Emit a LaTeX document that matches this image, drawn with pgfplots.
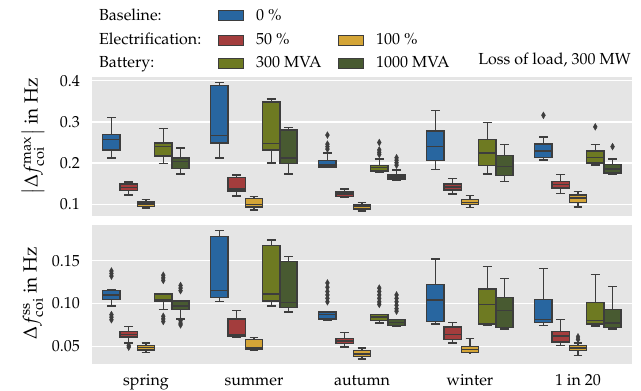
\documentclass[border=0pt]{standalone}
\usepackage[T1]{fontenc}
\usepackage{mathpazo}
\usepackage{pgfplots}
\pgfplotsset{compat=1.18}
\usepgfplotslibrary{statistics}
\definecolor{cA}{HTML}{2866A0}
\definecolor{cB}{HTML}{A33D3D}
\definecolor{cC}{HTML}{D4A537}
\definecolor{cD}{HTML}{6E7A22}
\definecolor{cE}{HTML}{485A31}
\definecolor{edge}{HTML}{3D3D3D}
\definecolor{bgc}{HTML}{E5E5E5}
\newcommand{\fs}{\fontsize{16}{19}\selectfont}
\newcommand{\fl}{\fontsize{19}{23}\selectfont}
\pgfplotsset{
  boxstyle/.style={draw=edge, line width=1.4pt, mark=diamond*, mark size=2.6pt,
    mark options={fill=edge, draw=edge, line width=0.4pt, yscale=1.3}},
  myaxis/.style={width=540pt, height=139pt, scale only axis,
    xmin=-0.5, xmax=4.5, xtick={0,1,2,3,4},
    axis background/.style={fill=bgc}, axis line style={draw=none},
    ymajorgrids, grid style={white, line width=1.3pt},
    major tick length=0pt, scaled y ticks=false,
    tick label style={font=\fs}, label style={font=\fl},
    yticklabel style={xshift=-6.7pt},
    clip=false}
}
\newcommand{\bx}[7]{\addplot[boxstyle, fill=#2, boxplot prepared={draw direction=y, box extend=0.16, whisker extend=0.08, draw position=#1, lower whisker=#3, lower quartile=#4, median=#5, upper quartile=#6, upper whisker=#7}] coordinates {};}
\newcommand{\bxo}[8]{\addplot[boxstyle, fill=#2, boxplot prepared={draw direction=y, box extend=0.16, whisker extend=0.08, draw position=#1, lower whisker=#3, lower quartile=#4, median=#5, upper quartile=#6, upper whisker=#7}] table[row sep=\\,y index=0] {data\\#8};}
\begin{document}
\fs
\begin{tikzpicture}
\path[use as bounding box] (-92pt,-27pt) rectangle (549pt,364pt);
% ---------------- top axis
\begin{axis}[myaxis, at={(0pt,148pt)}, anchor=south west,
  ymin=0.0716, ymax=0.409, ytick={0.1,0.2,0.3,0.4},
  yticklabel style={/pgf/number format/fixed, /pgf/number format/precision=1},
  xticklabels={},
  ylabel={$\left|\Delta f^{\mathrm{max}}_{\mathrm{coi}}\right|$ in Hz},
  ylabel style={at={(axis description cs:-0.1093,0.572)}, anchor=center}]
% spring
\bx{-0.32}{cA}{0.212}{0.232}{0.258}{0.270}{0.310}
\bx{-0.16}{cB}{0.123}{0.133}{0.141}{0.149}{0.154}
\bx{0}{cC}{0.091}{0.094}{0.101}{0.106}{0.111}
\bx{0.16}{cD}{0.199}{0.217}{0.241}{0.249}{0.284}
\bx{0.32}{cE}{0.174}{0.187}{0.204}{0.212}{0.237}
% summer
\bx{0.68}{cA}{0.212}{0.249}{0.267}{0.388}{0.396}
\bx{0.84}{cB}{0.120}{0.132}{0.137}{0.165}{0.171}
\bx{1}{cC}{0.086}{0.093}{0.099}{0.114}{0.119}
\bx{1.16}{cD}{0.200}{0.232}{0.248}{0.348}{0.356}
\bx{1.32}{cE}{0.174}{0.199}{0.212}{0.280}{0.286}
% autumn
\bxo{1.68}{cA}{0.190}{0.191}{0.195}{0.206}{0.225}{0.268\\0.246\\0.240\\0.234\\}
\bx{1.84}{cB}{0.116}{0.119}{0.125}{0.130}{0.137}
\bx{2}{cC}{0.084}{0.089}{0.094}{0.098}{0.105}
\bxo{2.16}{cD}{0.178}{0.181}{0.189}{0.194}{0.210}{0.250\\0.232\\0.226\\0.221\\}
\bxo{2.32}{cE}{0.159}{0.161}{0.166}{0.171}{0.183}{0.213\\0.207\\0.201\\0.195\\}
% winter
\bx{2.68}{cA}{0.185}{0.207}{0.241}{0.278}{0.327}
\bx{2.84}{cB}{0.125}{0.135}{0.142}{0.149}{0.163}
\bx{3}{cC}{0.092}{0.099}{0.105}{0.111}{0.122}
\bx{3.16}{cD}{0.174}{0.194}{0.225}{0.257}{0.298}
\bx{3.32}{cE}{0.156}{0.170}{0.192}{0.218}{0.245}
% 1 in 20
\bxo{3.68}{cA}{0.208}{0.213}{0.229}{0.246}{0.263}{0.316\\}
\bx{3.84}{cB}{0.126}{0.140}{0.148}{0.156}{0.173}
\bx{4}{cC}{0.093}{0.104}{0.115}{0.123}{0.131}
\bxo{4.16}{cD}{0.195}{0.200}{0.214}{0.229}{0.245}{0.288\\}
\bxo{4.32}{cE}{0.173}{0.176}{0.186}{0.197}{0.210}{0.240\\}
\end{axis}
% ---------------- bottom axis
\begin{axis}[myaxis, at={(0pt,0pt)}, anchor=south west,
  ymin=0.0293, ymax=0.1917, ytick={0.05,0.10,0.15},
  yticklabel style={/pgf/number format/fixed, /pgf/number format/fixed zerofill, /pgf/number format/precision=2},
  xticklabels={spring,summer,autumn,winter,1 in 20},
  xticklabel style={anchor=base, yshift=-21.5pt},
  ylabel={$\Delta f^{\mathrm{ss}}_{\mathrm{coi}}$ in Hz},
  ylabel style={at={(axis description cs:-0.1093,0.51)}, anchor=center}]
% spring
\bxo{-0.32}{cA}{0.097}{0.105}{0.110}{0.115}{0.116}{0.138\\0.135\\0.132\\0.087\\0.084\\0.081\\}
\bxo{-0.16}{cB}{0.054}{0.061}{0.064}{0.067}{0.073}{0.051\\0.049\\}
\bx{0}{cC}{0.043}{0.0457}{0.0484}{0.0507}{0.054}
\bxo{0.16}{cD}{0.093}{0.102}{0.104}{0.111}{0.111}{0.133\\0.130\\0.127\\0.085\\0.082\\0.079\\}
\bxo{0.32}{cE}{0.082}{0.093}{0.097}{0.103}{0.103}{0.121\\0.118\\0.115\\0.080\\0.077\\0.075\\}
% summer
\bx{0.68}{cA}{0.102}{0.107}{0.115}{0.178}{0.185}
\bx{0.84}{cB}{0.060}{0.062}{0.064}{0.082}{0.092}
\bx{1}{cC}{0.045}{0.046}{0.048}{0.058}{0.060}
\bx{1.16}{cD}{0.097}{0.103}{0.111}{0.1675}{0.174}
\bx{1.32}{cE}{0.090}{0.0955}{0.101}{0.149}{0.155}
% autumn
\bxo{1.68}{cA}{0.080}{0.082}{0.087}{0.090}{0.090}{0.124\\0.119\\0.114\\0.110\\0.106\\0.102\\}
\bx{1.84}{cB}{0.049}{0.053}{0.056}{0.059}{0.066}
\bx{2}{cC}{0.035}{0.038}{0.041}{0.045}{0.048}
\bxo{2.16}{cD}{0.077}{0.080}{0.084}{0.087}{0.087}{0.118\\0.114\\0.110\\0.106\\0.102\\0.099\\}
\bxo{2.32}{cE}{0.073}{0.0745}{0.078}{0.0815}{0.0815}{0.110\\0.106\\0.102\\0.098\\0.094\\0.091\\}
% winter
\bx{2.68}{cA}{0.076}{0.079}{0.104}{0.122}{0.152}
\bx{2.84}{cB}{0.054}{0.058}{0.064}{0.0725}{0.078}
\bx{3}{cC}{0.0425}{0.0426}{0.0465}{0.050}{0.059}
\bx{3.16}{cD}{0.0745}{0.076}{0.099}{0.117}{0.143}
\bx{3.32}{cE}{0.070}{0.072}{0.092}{0.107}{0.129}
% 1 in 20
\bx{3.68}{cA}{0.0745}{0.078}{0.0815}{0.105}{0.141}
\bx{3.84}{cB}{0.051}{0.055}{0.062}{0.067}{0.0815}
\bxo{4}{cC}{0.039}{0.045}{0.048}{0.0507}{0.054}{0.061\\0.058\\}
\bx{4.16}{cD}{0.0737}{0.076}{0.080}{0.101}{0.134}
\bx{4.32}{cE}{0.070}{0.072}{0.077}{0.093}{0.120}
\end{axis}
% ---------------- legend
\node[anchor=base west, inner sep=0pt] at (7pt,343.5pt) {Baseline:};
\node[anchor=base west, inner sep=0pt] at (7pt,319pt) {Electrification:};
\node[anchor=base west, inner sep=0pt] at (7pt,296pt) {Battery:};
\filldraw[fill=cA, draw=edge, line width=0.8pt] (126pt,343.5pt) rectangle (151pt,353.5pt);
\filldraw[fill=cB, draw=edge, line width=0.8pt] (126pt,319pt) rectangle (151pt,329pt);
\filldraw[fill=cC, draw=edge, line width=0.8pt] (246pt,319pt) rectangle (271pt,329pt);
\filldraw[fill=cD, draw=edge, line width=0.8pt] (126pt,295.5pt) rectangle (151pt,305.5pt);
\filldraw[fill=cE, draw=edge, line width=0.8pt] (246pt,295.5pt) rectangle (271pt,305.5pt);
\node[anchor=base west, inner sep=0pt] at (164pt,343.5pt) {0 \%};
\node[anchor=base west, inner sep=0pt] at (164pt,319pt) {50 \%};
\node[anchor=base west, inner sep=0pt] at (284pt,319pt) {100 \%};
\node[anchor=base west, inner sep=0pt] at (164pt,296pt) {300 MVA};
\node[anchor=base west, inner sep=0pt] at (284pt,296pt) {1000 MVA};
\node[anchor=base east, inner sep=0pt] at (539pt,299pt) {Loss of load, 300 MW};
\end{tikzpicture}
\end{document}
